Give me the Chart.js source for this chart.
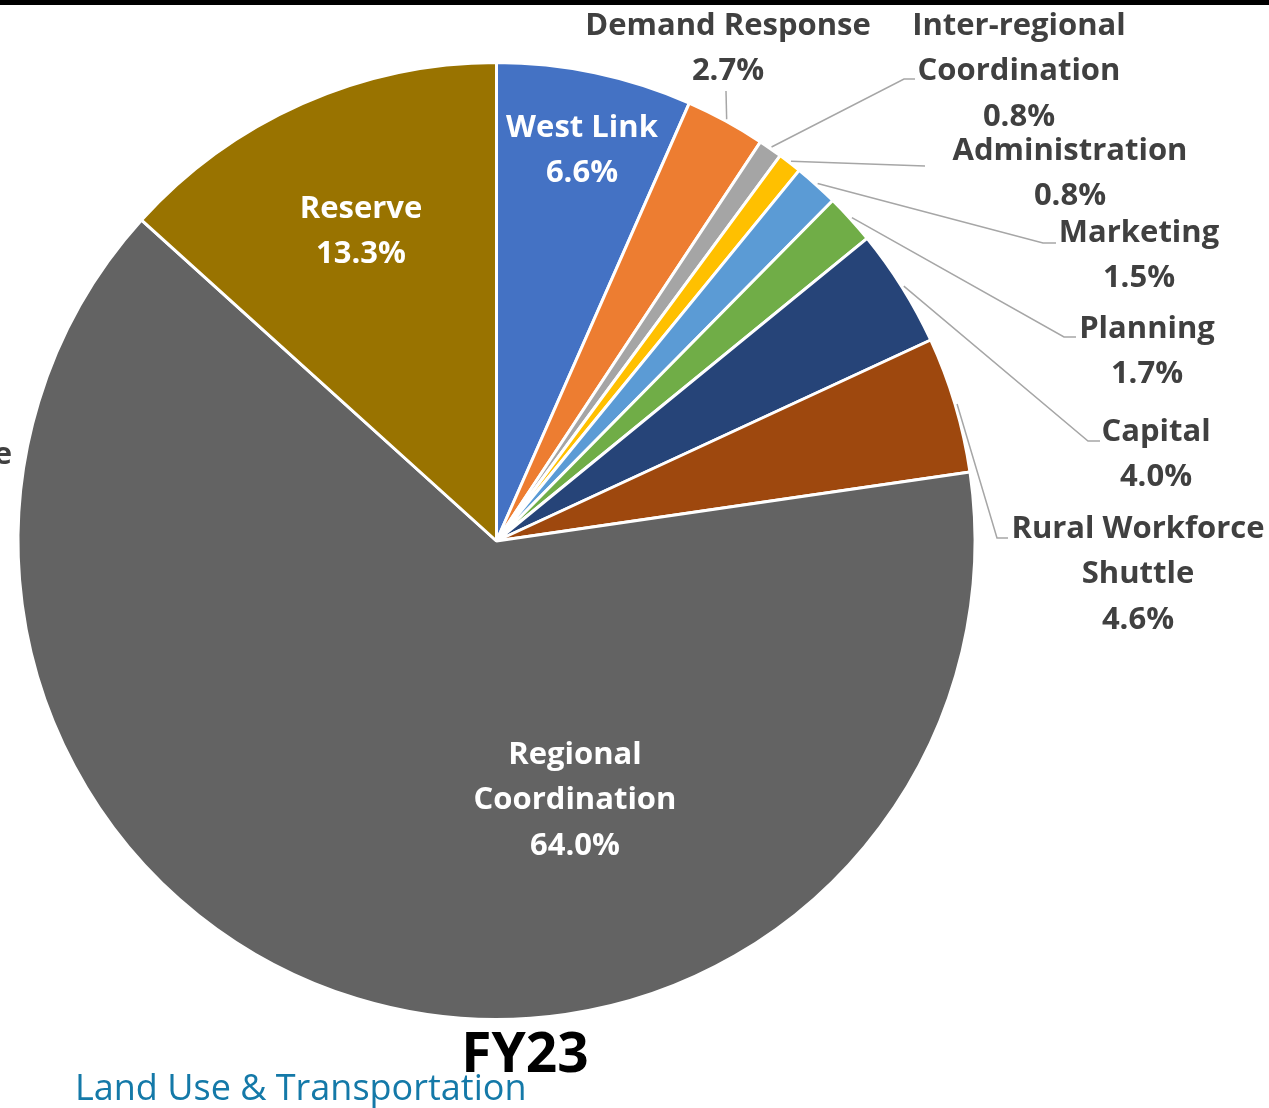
<!doctype html>
<html lang="en">
  <head>
    <meta charset="utf-8">
    <title>FY23</title>
    <style>
      * {
        margin: 0;
        padding: 0;
      }
      body {
        background: #fff;
        width: 1269px;
        height: 1108px;
        overflow: hidden;
      }
      .topBar {
        position: absolute;
        left: 0;
        top: 0;
        width: 1269px;
        height: 5px;
        background: #000;
      }
      .chartBox {
        position: absolute;
        left: 0;
        top: 0;
        width: 1269px;
        height: 1108px;
      }
    </style>
  </head>
  <body>
    <div class="chartBox">
      <canvas id="myChart" width="1269" height="1108"></canvas>
    </div>
    <div class="topBar"></div>
    <script src="https://cdn.jsdelivr.net/npm/chart.js/dist/chart.umd.min.js"></script>
    <script>
    // data
    const categories = ['West Link', 'Demand Response', 'Inter-regional Coordination', 'Administration',
      'Marketing', 'Planning', 'Capital', 'Rural Workforce Shuttle', 'Regional Coordination', 'Reserve'];
    const shares = [6.6, 2.7, 0.8, 0.8, 1.5, 1.7, 4.0, 4.6, 64.0, 13.3];
    const sliceColors = ['#4472C4', '#ED7D31', '#A5A5A5', '#FFC000', '#5B9BD5',
      '#70AD47', '#264478', '#9E480E', '#636363', '#997300'];

    // label text broken into lines, and where each label sits
    const labelLines = [
      ['West Link'], ['Demand Response'], ['Inter-regional', 'Coordination'], ['Administration'],
      ['Marketing'], ['Planning'], ['Capital'], ['Rural Workforce', 'Shuttle'],
      ['Regional', 'Coordination'], ['Reserve']
    ];
    // [textX, firstLineY, inside, elbowX, elbowY, endX, endY]
    const labelSpots = [
      [582, 128, true],
      [728, 26, false, 726, 91, 726, 91],
      [1019, 26, false, 904, 79, 915, 79],
      [1070, 151, false, 925, 166, 925, 166],
      [1139, 233, false, 1043, 243, 1056, 243],
      [1147, 329, false, 1064, 337, 1076, 337],
      [1156, 432, false, 1088, 441, 1100, 441],
      [1138, 529, false, 997, 538, 1008, 538],
      [575, 755, true],
      [361, 209, true]
    ];

    const lineGap = 45.5;
    const labelFont = 'bold 31px "Open Sans", sans-serif';

    const sliceLabels = {
      id: 'sliceLabels',
      afterDatasetsDraw(chart) {
        const ctx = chart.ctx;
        const arcs = chart.getDatasetMeta(0).data;
        ctx.save();
        arcs.forEach((arc, i) => {
          const spot = labelSpots[i];
          const p = arc.getProps(['x', 'y', 'startAngle', 'endAngle', 'outerRadius'], true);
          const mid = (p.startAngle + p.endAngle) / 2;
          if (!spot[2]) {
            const r = p.outerRadius + 2;
            ctx.beginPath();
            ctx.moveTo(p.x + Math.cos(mid) * r, p.y + Math.sin(mid) * r);
            ctx.lineTo(spot[3], spot[4]);
            ctx.lineTo(spot[5], spot[6]);
            ctx.strokeStyle = '#A6A6A6';
            ctx.lineWidth = 1.5;
            ctx.stroke();
          }
          const lines = labelLines[i].concat([shares[i].toFixed(1) + '%']);
          ctx.font = labelFont;
          ctx.textAlign = 'center';
          ctx.textBaseline = 'middle';
          ctx.fillStyle = spot[2] ? '#FFFFFF' : '#404040';
          lines.forEach((t, k) => ctx.fillText(t, spot[0], spot[1] + k * lineGap));
        });

        // clipped label from the neighbouring chart
        ctx.textAlign = 'right';
        ctx.fillStyle = '#404040';
        ctx.fillText('e', 12, 455);

        ctx.textAlign = 'center';
        ctx.textBaseline = 'alphabetic';
        ctx.fillStyle = '#000000';
        ctx.font = 'bold 55px "Open Sans", sans-serif';
        ctx.fillText('FY23', 525, 1072);

        ctx.textAlign = 'left';
        ctx.fillStyle = '#1479A8';
        ctx.font = '36px "Open Sans", sans-serif';
        ctx.fillText('Land Use & Transportation', 75, 1100);
        ctx.restore();
      }
    };

    const data = {
      labels: categories,
      datasets: [{
        data: shares,
        backgroundColor: sliceColors,
        borderColor: '#FFFFFF',
        borderWidth: 3
      }]
    };

    const config = {
      type: 'pie',
      data,
      options: {
        responsive: false,
        devicePixelRatio: 1,
        animation: false,
        layout: {
          padding: { left: 16, top: 61, right: 292, bottom: 87 }
        },
        plugins: {
          legend: { display: false },
          tooltip: { enabled: false }
        }
      },
      plugins: [sliceLabels]
    };

    const myChart = new Chart(document.getElementById('myChart'), config);
    </script>
  </body>
</html>
